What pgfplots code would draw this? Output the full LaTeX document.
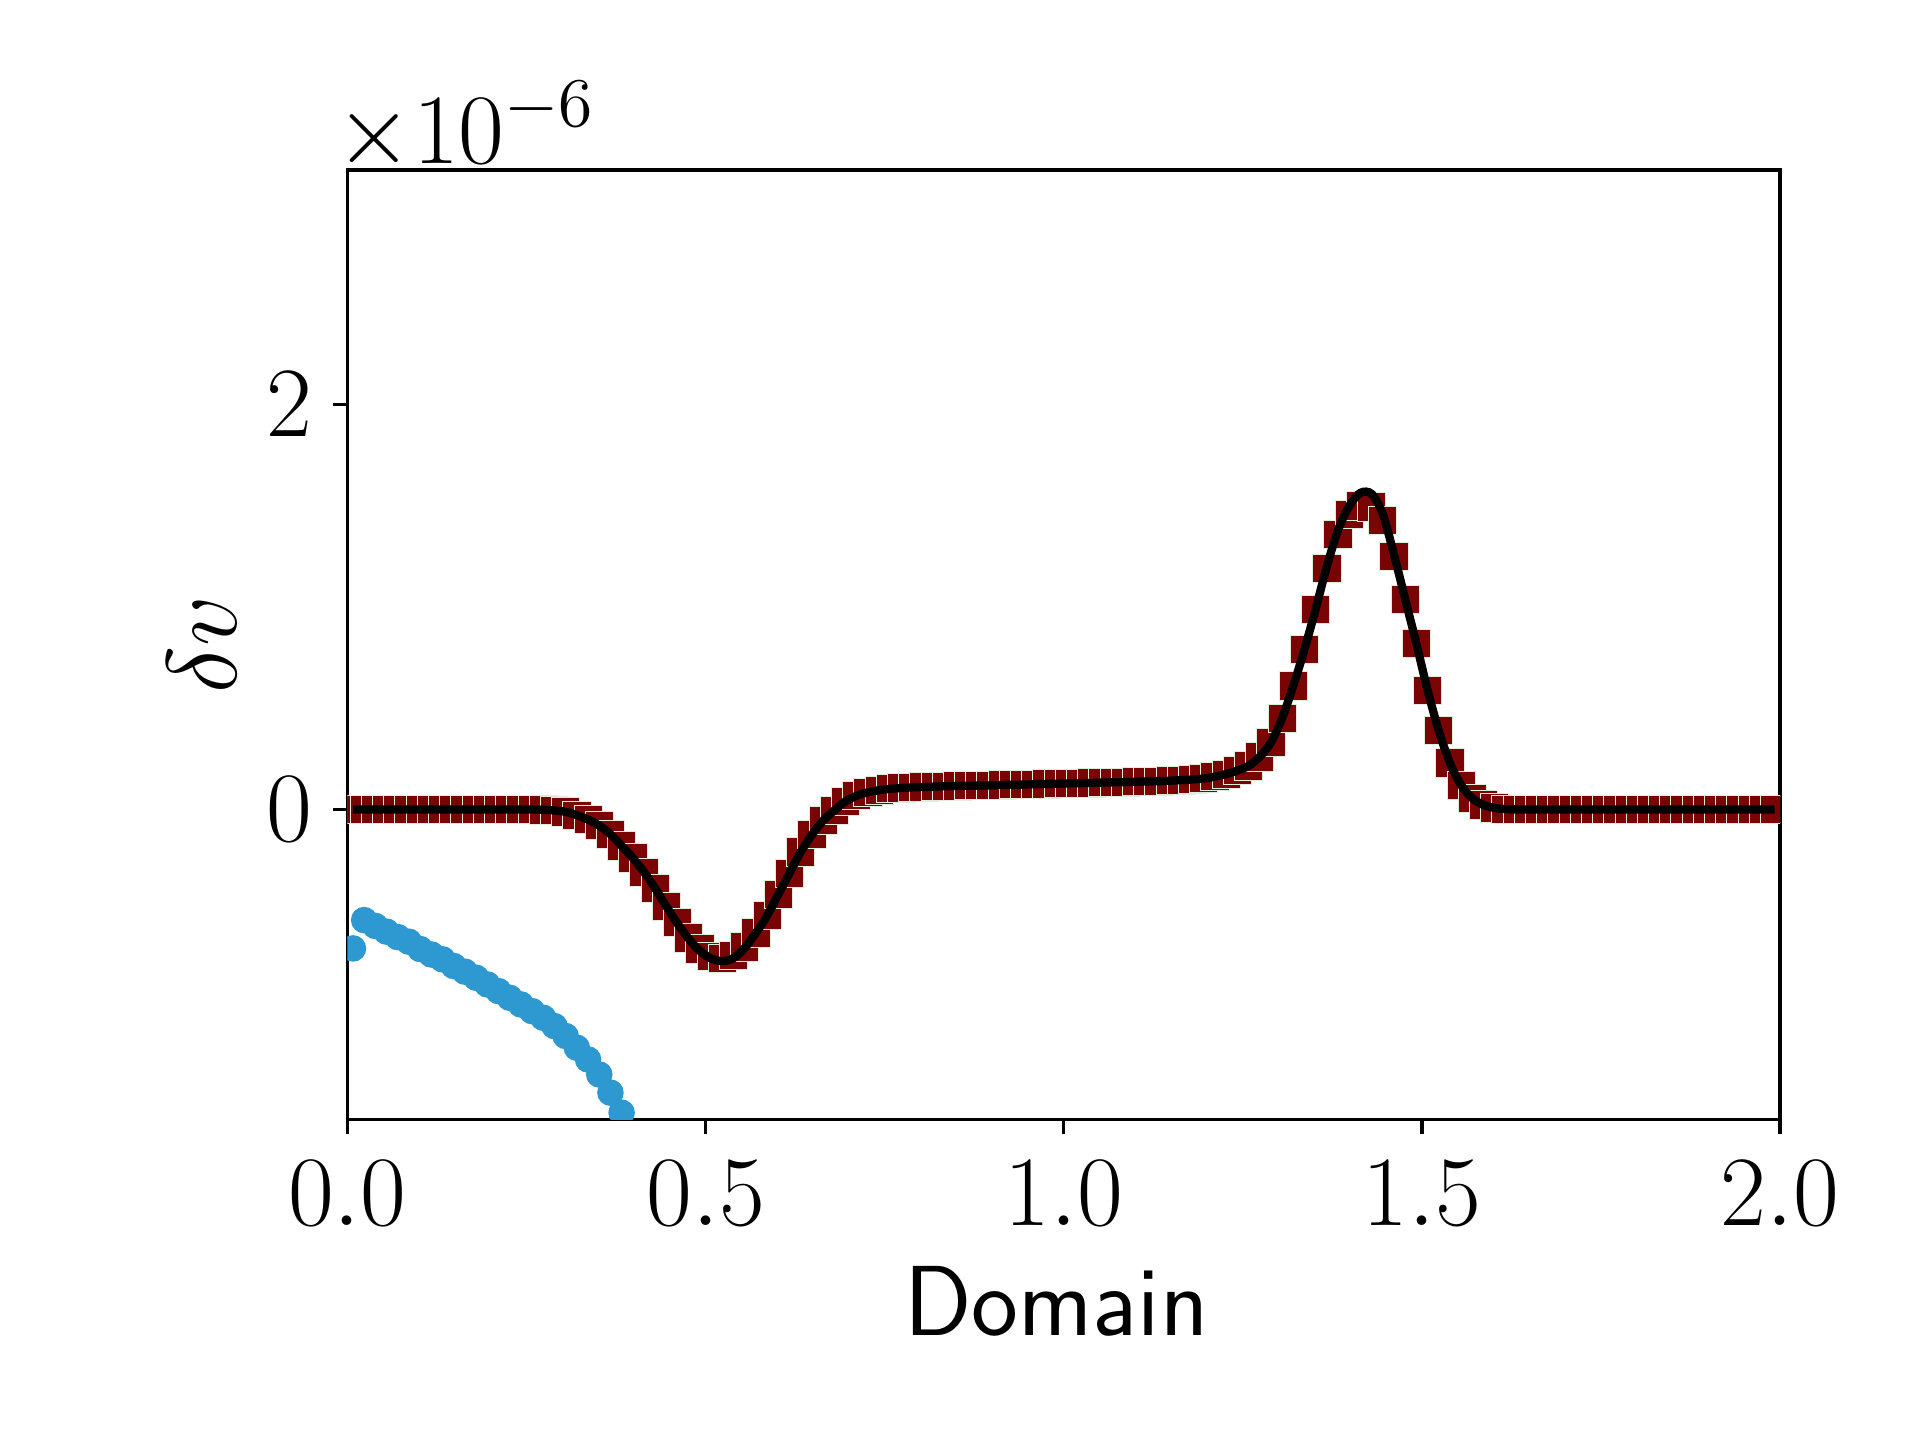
\RequirePackage{fix-cm}
\documentclass[border=0pt]{standalone}
\usepackage{fontspec}
\usepackage{pgfplots}
\usepackage{pgfplotstable}
\pgfplotsset{compat=1.18}
\definecolor{sqred}{RGB}{122,4,4}
\definecolor{sqgreen}{RGB}{30,130,20}
\definecolor{dotblue}{RGB}{46,152,208}

\pgfplotstableread{
x r b
0.00781 0 0
0.02344 0 0
0.03906 0 0
0.05469 0 0
0.07031 0 0
0.08594 0 0
0.10156 0 0
0.11719 0 0
0.13281 0 0
0.14844 0 0
0.16406 0 0
0.17969 0 0
0.19531 0 0
0.21094 0 0
0.22656 0 0
0.24219 0 0
0.25781 0 0
0.27344 -0.002 -0.002
0.28906 -0.005 -0.005
0.30469 -0.012 -0.012
0.32031 -0.028 -0.028
0.33594 -0.05 -0.05
0.35156 -0.08 -0.08
0.36719 -0.122 -0.122
0.38281 -0.18 -0.18
0.39844 -0.24 -0.24
0.41406 -0.31 -0.31
0.42969 -0.39 -0.39
0.44531 -0.48 -0.48
0.46094 -0.56 -0.565
0.47656 -0.635 -0.64
0.49219 -0.69 -0.70
0.50781 -0.725 -0.737
0.52344 -0.735 -0.75
0.53906 -0.722 -0.735
0.55469 -0.68 -0.685
0.57031 -0.61 -0.61
0.58594 -0.525 -0.525
0.60156 -0.42 -0.42
0.61719 -0.315 -0.315
0.63281 -0.21 -0.21
0.64844 -0.125 -0.125
0.66406 -0.055 -0.055
0.67969 -0.005 -0.005
0.69531 0.04 0.04
0.71094 0.068 0.068
0.72656 0.085 0.085
0.74219 0.095 0.095
0.75781 0.102 0.102
0.77344 0.106 0.106
0.78906 0.109 0.109
0.80469 0.111 0.111
0.82031 0.113 0.113
0.83594 0.115 0.115
0.85156 0.116 0.116
0.86719 0.117 0.117
0.88281 0.118 0.118
0.89844 0.119 0.119
0.91406 0.121 0.121
0.92969 0.122 0.122
0.94531 0.123 0.123
0.96094 0.125 0.125
0.97656 0.126 0.126
0.99219 0.127 0.127
1.00781 0.129 0.129
1.02344 0.130 0.130
1.03906 0.131 0.131
1.05469 0.133 0.133
1.07031 0.134 0.134
1.08594 0.135 0.135
1.10156 0.137 0.137
1.11719 0.138 0.138
1.13281 0.140 0.140
1.14844 0.142 0.142
1.16406 0.145 0.145
1.17969 0.148 0.148
1.19531 0.153 0.153
1.21094 0.162 0.162
1.22656 0.175 0.175
1.24219 0.192 0.192
1.25781 0.215 0.215
1.27344 0.26 0.26
1.28906 0.33 0.33
1.30469 0.45 0.45
1.32031 0.61 0.61
1.33594 0.79 0.79
1.35156 0.99 0.99
1.36719 1.19 1.20
1.38281 1.36 1.38
1.39844 1.46 1.50
1.41406 1.50 1.565
1.42969 1.495 1.56
1.44531 1.43 1.46
1.46094 1.25 1.26
1.47656 1.04 1.04
1.49219 0.82 0.82
1.50781 0.59 0.59
1.52344 0.39 0.39
1.53906 0.23 0.23
1.55469 0.12 0.12
1.57031 0.055 0.055
1.58594 0.022 0.022
1.60156 0.007 0.007
1.61719 0.002 0.002
1.63281 0 0
1.64844 0 0
1.66406 0 0
1.67969 0 0
1.69531 0 0
1.71094 0 0
1.72656 0 0
1.74219 0 0
1.75781 0 0
1.77344 0 0
1.78906 0 0
1.80469 0 0
1.82031 0 0
1.83594 0 0
1.85156 0 0
1.86719 0 0
1.88281 0 0
1.89844 0 0
1.91406 0 0
1.92969 0 0
1.94531 0 0
1.96094 0 0
1.97656 0 0
1.99219 0 0
}\maintable

\pgfplotstableread{
x y
0.00781 -0.687
0.02344 -0.547
0.03906 -0.576
0.05469 -0.604
0.07031 -0.631
0.08594 -0.654
0.10156 -0.690
0.11719 -0.717
0.13281 -0.741
0.14844 -0.774
0.16406 -0.802
0.17969 -0.832
0.19531 -0.865
0.21094 -0.898
0.22656 -0.931
0.24219 -0.964
0.25781 -0.997
0.27344 -1.030
0.28906 -1.071
0.30469 -1.120
0.32031 -1.178
0.33594 -1.236
0.35156 -1.310
0.36719 -1.400
0.38281 -1.499
}\bluetable

\begin{document}
\fontsize{24}{29}\selectfont
\begin{tikzpicture}
\begin{axis}[
  name=ax,
  at={(0,0)}, anchor=south west,
  scale only axis,
  width=345.2pt, height=228.7pt,
  xmin=0, xmax=2,
  ymin=-1.532, ymax=3.160,
  xtick={0,0.5,1,1.5,2},
  xticklabels={$0.0$,$0.5$,$1.0$,$1.5$,$2.0$},
  ytick={0,2},
  yticklabels={$0$,$2$},
  tick align=outside,
  xtick pos=bottom, ytick pos=left,
  major tick length=3.5pt,
  axis line style={line width=0.8pt},
  every tick/.style={line width=0.8pt, black},
  xticklabel style={font=\fontsize{24}{29}\selectfont, inner sep=0pt, anchor=north, yshift=-6.5pt},
  yticklabel style={font=\fontsize{24}{29}\selectfont, inner sep=0pt, anchor=east, xshift=-4.9pt},
  xlabel={\sffamily Domain},
  ylabel={$\delta v$},
  xlabel style={font=\fontsize{24}{29}\selectfont, at={(axis description cs:0.5,0)}, anchor=base, yshift=-52pt, xshift=-1.8pt},
  ylabel style={font=\fontsize{24}{29}\selectfont, at={(axis description cs:-0.1014,0.5)}, anchor=center},
  scaled ticks=false,
  clip=true,
  clip marker paths=true,
]
\addplot[only marks, mark=square*, mark size=3.15pt, mark options={fill=sqgreen, draw=sqgreen, line width=0pt}] table[x=x, y=r] {\maintable};
\addplot[only marks, mark=square*, mark size=3.4pt, mark options={fill=sqred, draw=white!85!sqgreen, line width=0.2pt}] table[x=x, y=r] {\maintable};
\addplot[black, line width=2pt, smooth, tension=0.5] table[x=x, y=b] {\maintable};
\addplot[only marks, mark=*, mark size=3pt, color=dotblue] table[x=x, y=y] {\bluetable};
\end{axis}
\node[anchor=base west, inner sep=0pt] at ([yshift=1.7pt, xshift=-3pt]ax.north west) {$\times 10^{-6}$};
\pgfresetboundingbox
\path[use as bounding box] (-83.7pt,-77.3pt) rectangle (378.9pt,269.7pt);
\end{tikzpicture}
\end{document}
